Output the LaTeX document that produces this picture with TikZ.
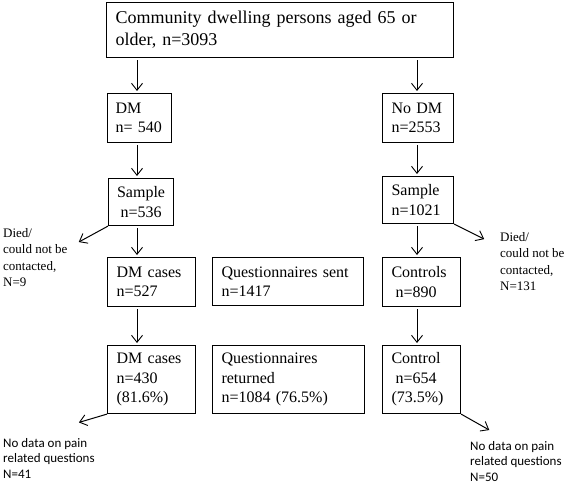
\documentclass[tikz,border=0pt]{standalone}
\usepackage{fontspec}
\setmainfont{Liberation Serif}
\newfontfamily\calib{Carlito}
\usetikzlibrary{arrows.meta}
\begin{document}
\begin{tikzpicture}[x=1pt,y=-1pt,
  box/.style={draw, line width=1.1pt, anchor=north west, inner xsep=9pt, inner ysep=0pt, align=left, font=\fontsize{16}{19.5}\selectfont},
  arr/.style={line width=1pt, -{Straight Barb[length=7pt,width=11pt,line width=0.9pt]}, shorten <=2pt, shorten >=2pt},
  side/.style={anchor=north west, inner sep=0pt, align=left, font=\fontsize{13}{16.5}\selectfont},
  note/.style={anchor=north west, inner sep=0pt, align=left, font=\calib\fontsize{13}{15.5}\selectfont}]
\useasboundingbox (0,0) rectangle (567,486);
% boxes
\node[box, text width=329pt, minimum height=55pt, font=\fontsize{18}{22}\selectfont] (top) at (106,2)
  {\makebox[304pt][s]{Community dwelling persons aged 65 or}\\older, n=3093};
\node[box, inner xsep=8pt, text width=48pt, minimum height=49pt] (dm) at (107,93) {DM\\\mbox{n= 540}};
\node[box, text width=53pt, minimum height=49pt] (nodm) at (382,93) {No DM\\n=2553};
\node[box, inner xsep=4pt, text width=57pt, minimum height=47pt, align=center] (sl) at (108,178) {Sample\\n=536};
\node[box, text width=53pt, minimum height=47pt] (sr) at (382,176) {Sample\\n=1021};
\node[box, text width=70pt, minimum height=49pt] (dmc1) at (107,257) {DM cases\\n=527};
\node[box, text width=133pt, minimum height=48pt] (qs) at (212,257) {Questionnaires sent\\n=1417};
\node[box, text width=60pt, minimum height=49pt] (ctl1) at (382,257) {Controls\\\hspace*{4pt}n=890};
\node[box, text width=70pt, minimum height=68pt] (dmc2) at (107,345) {DM cases\\n=430\\(81.6\%)};
\node[box, text width=134pt, minimum height=68pt] (qr) at (212,345) {Questionnaires\\returned\\n=1084 (76.5\%)};
\node[box, text width=60pt, minimum height=68pt] (ctl2) at (382,345) {Control\\\hspace*{4pt}n=654\\(73.5\%)};
% side texts
\node[side] (lost1) at (3,228) {Died/\\could not be\\contacted,\\N=9};
\node[side] (lost2) at (500,232) {Died/\\could not be\\contacted,\\N=131};
\node[note] (nd1) at (3,438) {No data on pain\\related questions\\N=41};
\node[note] (nd2) at (470,441) {No data on pain\\related questions\\N=50};
% guide coordinates
\coordinate (xl) at (137,0);
\coordinate (xr) at (417,0);
\coordinate (d1) at (77,243);
\coordinate (d2) at (486,240);
\coordinate (d3) at (77,423);
\coordinate (d4) at (491,431);
% connectors
\draw[arr] (top.south -| xl) -- (dm.north -| xl);
\draw[arr] (top.south -| xr) -- (nodm.north -| xr);
\draw[arr] (dm.south -| xl) -- (sl.north -| xl);
\draw[arr] (nodm.south -| xr) -- (sr.north -| xr);
\draw[arr] (sl.south -| xl) -- (dmc1.north -| xl);
\draw[arr] (sr.south -| xr) -- (ctl1.north -| xr);
\draw[arr] (dmc1.south -| xl) -- (dmc2.north -| xl);
\draw[arr] (ctl1.south -| xr) -- (ctl2.north -| xr);
\draw[arr, shorten <=0pt] (sl.south west) -- (d1);
\draw[arr, shorten <=0pt] (sr.south east) -- (d2);
\draw[arr, shorten <=0pt] (dmc2.south west) -- (d3);
\draw[arr, shorten <=0pt] (ctl2.south east) -- (d4);
\end{tikzpicture}
\end{document}
